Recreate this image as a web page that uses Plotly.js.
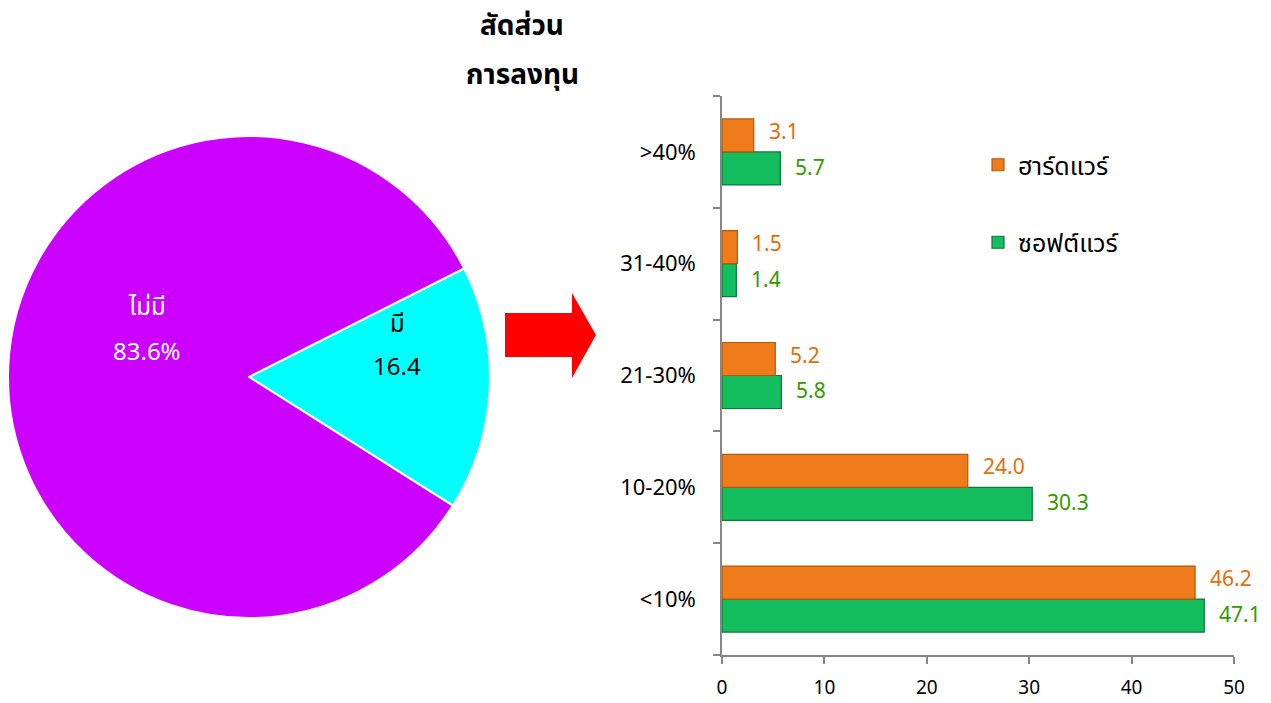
<!DOCTYPE html>
<html>
<head>
<meta charset="utf-8">
<script src="https://cdn.plot.ly/plotly-3.0.1.min.js"></script>
<style>html,body{margin:0;padding:0;background:#fff;}#chart{width:1271px;height:703px;}</style>
</head>
<body>
<div id="chart"></div>
<script>
// ---- data ----
const titleLines = ['สัดส่วน', 'การลงทุน'];
const pieLabels = ['มี', 'ไม่มี'];
const pieValues = [16.4, 83.6];
const pieValueText = ['16.4', '83.6%'];
const categories = ['<10%', '10-20%', '21-30%', '31-40%', '>40%'];
const hardwareName = 'ฮาร์ดแวร์';
const softwareName = 'ซอฟต์แวร์';
const hardware = [46.2, 24.0, 5.2, 1.5, 3.1];
const software = [47.1, 30.3, 5.8, 1.4, 5.7];
const xTicks = [0, 10, 20, 30, 40, 50];

// ---- layout helpers (pixel -> paper) ----
const W = 1271, H = 703;
const px = x => x / W;
const py = y => 1 - y / H;
const FONT = "Tahoma, 'Noto Sans Thai', 'Noto Sans', 'DejaVu Sans', sans-serif";
const ORANGE = '#EF7B1A', ORANGE_LINE = '#B05A0C', ORANGE_TXT = '#E46C0A';
const GREEN = '#14BD5E', GREEN_LINE = '#0B7A3C', GREEN_TXT = '#339900';
const BARGAP = 0.41;
const half = (1 - BARGAP) / 4;

const traces = [
  {
    type: 'pie', labels: pieLabels, values: pieValues, sort: false,
    direction: 'clockwise', rotation: 63.2,
    marker: {colors: ['#00FFFF', '#CC00FF'], line: {color: '#FFFFFF', width: 2}},
    textinfo: 'none', hoverinfo: 'label+value', showlegend: false,
    domain: {x: [px(8), px(490)], y: [py(618), py(136)]}
  },
  {
    type: 'bar', orientation: 'h', name: softwareName, y: categories, x: software,
    marker: {color: GREEN, line: {color: GREEN_LINE, width: 1.2}},
    xaxis: 'x', yaxis: 'y', legendgroup: 'sw', legendrank: 2
  },
  {
    type: 'bar', orientation: 'h', name: hardwareName, y: categories, x: hardware,
    marker: {color: ORANGE, line: {color: ORANGE_LINE, width: 1.2}},
    xaxis: 'x', yaxis: 'y', legendgroup: 'hw', legendrank: 1
  }
];

const annotations = [];
titleLines.forEach((t, i) => annotations.push({
  text: '<b>' + t + '</b>', xref: 'paper', yref: 'paper', x: px(522), y: py(27 + i * 48),
  showarrow: false, xanchor: 'center', yanchor: 'middle',
  font: {family: FONT, size: 28, color: '#000'}
}));
// pie labels
const pieTextPos = [[397, 325, 368, '#000000'], [147, 308, 353, '#FFFFFF']];
pieLabels.forEach((lab, i) => {
  const p = pieTextPos[i];
  annotations.push({text: lab, xref: 'paper', yref: 'paper', x: px(p[0]), y: py(p[1]),
    xanchor: 'center', yanchor: 'middle',
    showarrow: false, font: {family: FONT, size: 24, color: p[3]}});
  annotations.push({text: pieValueText[i], xref: 'paper', yref: 'paper', x: px(p[0]), y: py(p[2]),
    xanchor: 'center', yanchor: 'middle',
    showarrow: false, font: {family: FONT, size: 24, color: p[3]}});
});
// bar labels
categories.forEach((c, i) => {
  annotations.push({text: hardware[i].toFixed(1), xref: 'x', yref: 'y', x: hardware[i], y: i + half,
    xanchor: 'left', yanchor: 'middle', xshift: 13, yshift: 3, showarrow: false,
    font: {family: FONT, size: 21, color: ORANGE_TXT}});
  annotations.push({text: software[i].toFixed(1), xref: 'x', yref: 'y', x: software[i], y: i - half,
    xanchor: 'left', yanchor: 'middle', xshift: 13, showarrow: false,
    font: {family: FONT, size: 21, color: GREEN_TXT}});
});

const arrowPts = [[505,313],[572,313],[572,293],[596,335],[572,378],[572,357],[505,357]];
const arrowPath = 'M' + arrowPts.map(p => px(p[0]) + ',' + py(p[1])).join(' L') + ' Z';

const layout = {
  width: W, height: H,
  margin: {l: 0, r: 0, t: 0, b: 0},
  paper_bgcolor: '#fff', plot_bgcolor: 'rgba(0,0,0,0)',
  font: {family: FONT, size: 19, color: '#000'},
  barmode: 'group', bargap: BARGAP, bargroupgap: 0,
  xaxis: {
    domain: [px(722), px(1234)], range: [0, 50], tickvals: xTicks,
    showgrid: false, zeroline: false, showline: true, linecolor: '#868686', linewidth: 1.5,
    ticks: 'outside', ticklen: 7, tickcolor: '#868686', tickwidth: 1.5,
    ticklabelstandoff: 7, tickfont: {family: FONT, size: 19, color: '#000'}, fixedrange: true
  },
  yaxis: {
    domain: [py(655), py(96)], type: 'category', range: [-0.5, 4.5],
    showgrid: false, zeroline: false, showline: true, linecolor: '#868686', linewidth: 1.5,
    ticks: 'outside', tickson: 'boundaries', ticklen: 7, tickcolor: '#868686', tickwidth: 1.5,
    ticklabelstandoff: 20, tickfont: {family: FONT, size: 22, color: '#000'}, fixedrange: true
  },
  showlegend: true,
  legend: {
    x: px(978), y: py(142), xanchor: 'left', yanchor: 'top',
    traceorder: 'grouped', tracegroupgap: 42, itemwidth: 30,
    font: {family: FONT, size: 25, color: '#000'}, bgcolor: 'rgba(0,0,0,0)'
  },
  annotations: annotations,
  shapes: [{type: 'path', xref: 'paper', yref: 'paper', path: arrowPath,
    fillcolor: '#FF0000', line: {width: 0}}]
};

Plotly.newPlot('chart', traces, layout, {displayModeBar: false, responsive: false});
</script>
</body>
</html>
